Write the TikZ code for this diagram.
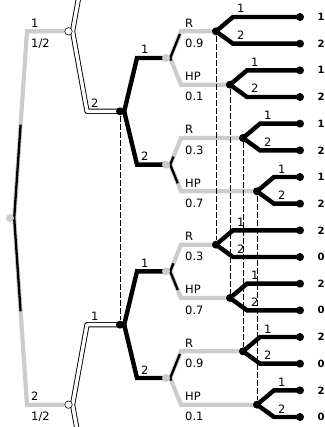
\documentclass[tikz,border=0pt]{standalone}
\usepackage{fontspec}
\setmainfont{DejaVu Sans}
\usetikzlibrary{calc}
\definecolor{chancegray}{RGB}{204,204,204}
\pgfdeclarelayer{branches}
\pgfsetlayers{branches,main}
\begin{document}
\begin{tikzpicture}[x=1pt,y=-1pt,
  chancebr/.style={line width=4.2pt,draw=chancegray,line join=miter},
  probbar/.style={line width=2.3pt,draw=black},
  playbr/.style={line width=4.4pt,draw=black,line join=miter},
  subbr/.style={line width=0.9pt,draw=black,double=white,double distance=3.4pt,line join=round},
  infoset/.style={line width=0.7pt,draw=black,dash pattern=on 6pt off 2pt},
  cdot/.style={circle,fill=chancegray,minimum size=8pt,inner sep=0pt},
  pdot/.style={circle,fill=black,minimum size=8pt,inner sep=0pt},
  tdot/.style={circle,fill=black,minimum size=8pt,inner sep=0pt},
  odot/.style={circle,draw=black,fill=white,line width=0.6pt,minimum size=7.5pt,inner sep=0pt},
  act/.style={inner sep=0pt,anchor=base west,font=\fontsize{11.5}{12}\selectfont},
  prb/.style={inner sep=0pt,anchor=north west,font=\fontsize{11.5}{12}\selectfont},
  pay/.style={inner sep=0pt,anchor=west,font=\fontsize{10}{10}\selectfont\bfseries},
]
\useasboundingbox (0,0) rectangle (324,427);

% root chance node and the two subgame roots
\node[cdot] (r) at (10,218) {};
\node[odot] (s1) at (68.5,31.33) {};
\node[odot] (s2) at (68.5,404.67) {};
% player 1 nodes
\node[pdot] (p1) at (120,111.33) {};
\node[pdot] (p2) at (120,324.67) {};
% chance nodes
\foreach \i in {1,...,4}
  \node[cdot] (c\i) at (166,{58+106.667*(\i-1)}) {};
% player 2 nodes
\foreach \j/\x in {1/216,2/230,3/243,4/257,5/216,6/230,7/243,8/257}
  \node[pdot] (q\j) at (\x,{31.33+53.333*(\j-1)}) {};
% terminal nodes and payoffs
\foreach \k/\v in {1/1,2/2,3/1,4/2,5/1,6/2,7/1,8/2,9/2,10/0,11/2,12/0,13/2,14/0,15/2,16/0} {
  \node[tdot] (t\k) at (300,{17+26.667*(\k-1)}) {};
  \node[pay] (v\k) at (317.5,{17+26.667*(\k-1)}) {\v};
}

% bend points of the forks
\coordinate (ra) at (27,31.33);
\coordinate (rb) at (27,404.67);
\coordinate (s1u) at (87,-48.67);
\coordinate (s1d) at (87,111.33);
\coordinate (s2u) at (87,324.67);
\coordinate (s2d) at (87,484.67);
\coordinate (p1a) at (137,58);
\coordinate (p1b) at (137,164.67);
\coordinate (p2a) at (137,271.33);
\coordinate (p2b) at (137,378);
\foreach \i in {1,...,4} {
  \coordinate (ca\i) at (181,{31.33+53.333*(2*\i-2)});
  \coordinate (cb\i) at (181,{31.33+53.333*(2*\i-1)});
}
\foreach \j in {1,...,8} {
  \pgfmathtruncatemacro\ku{2*\j-1}
  \pgfmathtruncatemacro\kd{2*\j}
  \coordinate (qa\j) at ($(q\j |- t\ku)+(17,0)$);
  \coordinate (qb\j) at ($(q\j |- t\kd)+(17,0)$);
}

\begin{pgfonlayer}{branches}
  % root chance move
  \draw[chancebr] (r.east) -- (ra) -- (s1.west);
  \draw[chancebr] (r.east) -- (rb) -- (s2.west);
  \draw[probbar] (r.east) -- ($(r.east)!0.5!(ra)$);
  \draw[probbar] (r.east) -- ($(r.east)!0.5!(rb)$);
  % chance moves R / HP
  \foreach \i/\u/\d/\pu/\pd in {1/1/2/0.9/0.1,2/3/4/0.3/0.7,3/5/6/0.3/0.7,4/7/8/0.9/0.1} {
    \draw[chancebr] (c\i.east) -- (ca\i) -- (q\u.center);
    \draw[chancebr] (c\i.east) -- (cb\i) -- (q\d.center);
    \draw[probbar] (c\i.east) -- ($(c\i.east)!\pu!(ca\i)$);
    \draw[probbar] (c\i.east) -- ($(c\i.east)!\pd!(cb\i)$);
  }
  % subgame links
  \draw[subbr] (s1u) -- (s1.east) -- (s1d) -- (p1.center);
  \draw[subbr] (s2d) -- (s2.east) -- (s2u) -- (p2.center);
  % player 1 moves
  \draw[playbr] (p1.east) -- (p1a) -- (c1.center);
  \draw[playbr] (p1.east) -- (p1b) -- (c2.center);
  \draw[playbr] (p2.east) -- (p2a) -- (c3.center);
  \draw[playbr] (p2.east) -- (p2b) -- (c4.center);
  % player 2 moves
  \foreach \j in {1,...,8} {
    \pgfmathtruncatemacro\ku{2*\j-1}
    \pgfmathtruncatemacro\kd{2*\j}
    \draw[playbr] (q\j.center) -- (qa\j) -- (t\ku.center);
    \draw[playbr] (q\j.center) -- (qb\j) -- (t\kd.center);
  }
  % information sets
  \draw[infoset] (p1) -- (p2);
  \foreach \a/\b in {1/5,2/6,3/7,4/8}
    \draw[infoset] (q\a) -- (q\b);
\end{pgfonlayer}

% labels
\node[act] (lr1) at ($(ra)+(4,-4)$) {1};
\node[prb] (lr1p) at ($(ra)+(4,7.5)$) {1/2};
\node[act] (lr2) at ($(rb)+(4,-4)$) {2};
\node[prb] (lr2p) at ($(rb)+(4,7.5)$) {1/2};
\node[act] (ls1) at ($(s1d)+(4,-4)$) {2};
\node[act] (ls2) at ($(s2u)+(4,-4)$) {1};
\node[act] (lp1a) at ($(p1a)+(4,-4)$) {1};
\node[act] (lp1b) at ($(p1b)+(4,-4)$) {2};
\node[act] (lp2a) at ($(p2a)+(4,-4)$) {1};
\node[act] (lp2b) at ($(p2b)+(4,-4)$) {2};
\foreach \i/\pu/\pd in {1/0.9/0.1,2/0.3/0.7,3/0.3/0.7,4/0.9/0.1} {
  \node[act] (lca\i) at ($(ca\i)+(4,-4)$) {R};
  \node[prb] (lcap\i) at ($(ca\i)+(4,7.5)$) {\pu};
  \node[act] (lcb\i) at ($(cb\i)+(4,-4)$) {HP};
  \node[prb] (lcbp\i) at ($(cb\i)+(4,7.5)$) {\pd};
}
\foreach \j in {1,...,8} {
  \node[act] (lqa\j) at ($(qa\j)+(4,-4)$) {1};
  \node[act] (lqb\j) at ($(qb\j)+(4,-4)$) {2};
}
\end{tikzpicture}
\end{document}
